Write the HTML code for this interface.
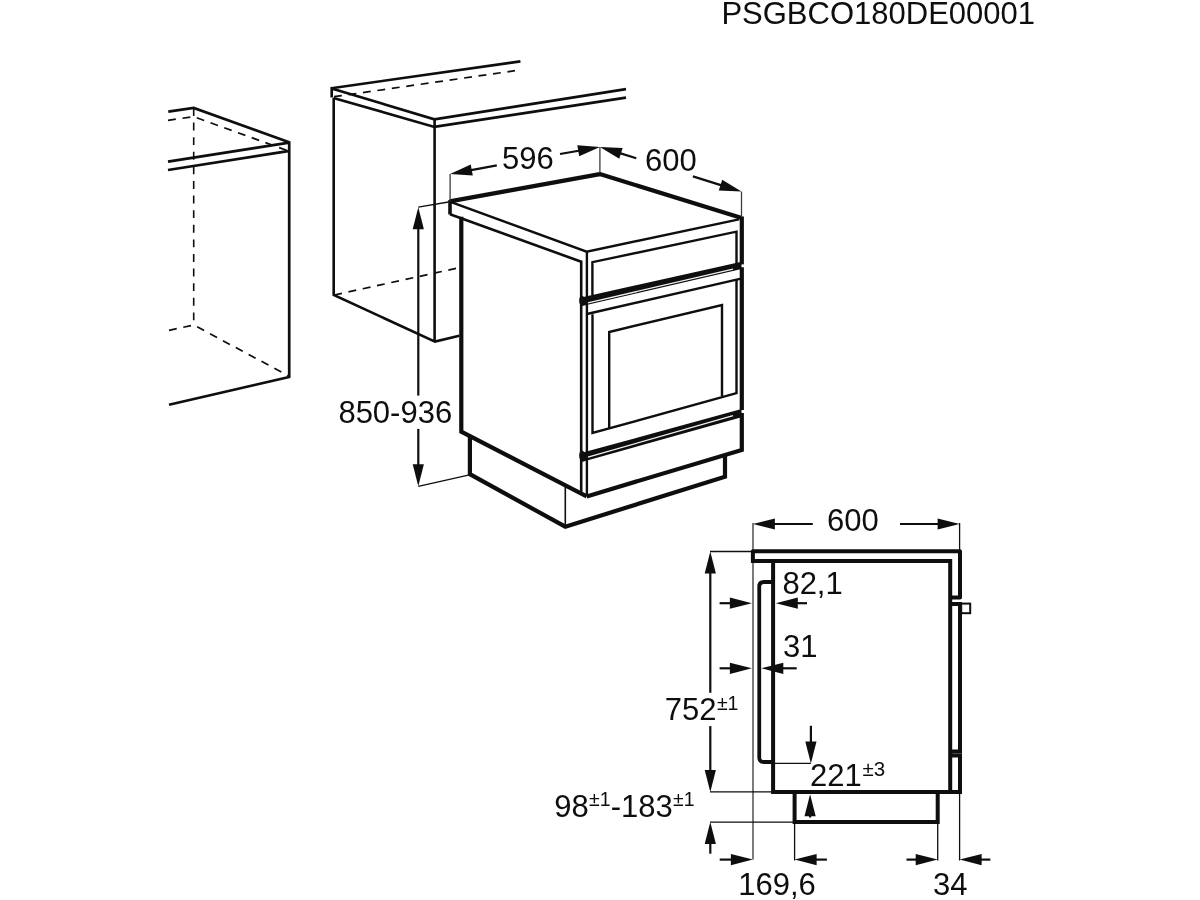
<!DOCTYPE html>
<html><head><meta charset="utf-8"><style>
html,body{margin:0;padding:0;background:#fff;width:1200px;height:900px;overflow:hidden}
svg{display:block;will-change:transform}
svg path,svg rect{fill:none;stroke:#0e0e0e}
svg text{font-family:"Liberation Sans",sans-serif;fill:#0e0e0e}
</style></head><body>
<svg width="1200" height="900" viewBox="0 0 1200 900">
<text x="721.4" y="23.6" font-size="31" text-anchor="start">PSGBCO180DE00001</text>
<path d="M168.30,111.70 L193.70,108.00 L289.20,142.20" stroke-width="2.7"/>
<path d="M168.00,161.70 L289.20,142.60" stroke-width="2.7"/>
<path d="M168.00,170.00 L288.00,151.20" stroke-width="2.7"/>
<path d="M289.20,141.20 L289.20,377.20" stroke-width="2.7"/>
<path d="M290.20,376.70 L169.00,404.80" stroke-width="2.7"/>
<path d="M168.00,120.30 L193.70,116.70 L288.00,150.80" stroke-width="1.7" stroke-dasharray="7.9 6.7"/>
<path d="M193.70,108.00 L193.70,325.00" stroke-width="1.6" stroke-dasharray="7.9 6.7"/>
<path d="M169.00,330.30 L193.70,325.00 L288.30,375.70" stroke-width="1.7" stroke-dasharray="7.9 6.7"/>
<path d="M331.40,88.20 L520.40,61.40" stroke-width="2.6"/>
<path d="M334.00,96.70 L515.00,70.70" stroke-width="1.7" stroke-dasharray="7.9 6.7"/>
<path d="M331.70,97.60 L331.70,88.50 L434.40,119.30 L626.00,89.10" stroke-width="2.6"/>
<path d="M333.50,98.00 L434.40,126.90 L626.00,97.60" stroke-width="2.6"/>
<path d="M434.60,119.30 L434.60,342.00" stroke-width="2.6"/>
<path d="M333.70,98.00 L333.70,295.00 L435.00,341.60 L459.30,335.70" stroke-width="2.6"/>
<path d="M334.20,295.00 L456.40,268.30" stroke-width="1.7" stroke-dasharray="7.9 6.7"/>
<path d="M449.80,201.40 L599.80,174.10 L741.70,218.00" stroke-width="4.2" stroke-linejoin="round"/>
<path d="M449.80,201.70 L586.70,251.70 L738.90,219.40" stroke-width="2.4"/>
<path d="M450.00,200.00 L450.00,214.50" stroke-width="3.6"/>
<path d="M450.00,214.30 L581.20,261.70 L581.20,493.00" stroke-width="2.6"/>
<path d="M586.90,251.70 L586.90,496.00" stroke-width="2.4"/>
<path d="M461.30,216.80 L461.30,431.60 L586.70,496.40" stroke-width="4.2"/>
<path d="M741.80,216.50 L741.80,264.40" stroke-width="4.2"/>
<path d="M741.80,267.20 L741.80,410.00" stroke-width="4.2"/>
<path d="M741.80,413.00 L741.80,450.00 L586.70,496.40" stroke-width="4.2"/>
<path d="M592.40,295.60 L592.40,262.20 L736.50,231.70 L736.50,263.90" stroke-width="2.4"/>
<polygon points="580,297.7 741.5,261.8 741.5,269.0 580,306.6" fill="#0e0e0e" stroke="none"/>
<ellipse cx="582" cy="300.5" rx="2.8" ry="4.6" fill="#0e0e0e" stroke="none"/>
<path d="M588.00,302.80 L733.00,269.20" stroke-width="1.3" style="stroke:#f2f2f2"/>
<path d="M586.90,314.00 L741.00,278.60" stroke-width="2.4"/>
<path d="M592.50,314.20 L592.50,433.00 L736.50,393.20 L736.50,280.00" stroke-width="2.4"/>
<path d="M609.20,428.50 L609.20,332.00 L722.00,305.00 L722.00,396.00" stroke-width="2.4"/>
<polygon points="580,453.3 741.5,409.0 741.5,417.3 580,462.4" fill="#0e0e0e" stroke="none"/>
<ellipse cx="582" cy="455.5" rx="2.8" ry="4.8" fill="#0e0e0e" stroke="none"/>
<path d="M588.00,457.20 L733.00,415.60" stroke-width="1.3" style="stroke:#f2f2f2"/>
<path d="M469.90,436.00 L469.90,474.20 L565.30,526.70 L725.00,476.70 L725.00,455.00" stroke-width="4.2"/>
<path d="M565.30,486.00 L565.30,526.70" stroke-width="1.6"/>
<path d="M450.10,174.00 L450.10,201.00" stroke-width="1.3" style="stroke:#3c3c3c"/>
<path d="M599.90,147.00 L599.90,173.00" stroke-width="1.3" style="stroke:#3c3c3c"/>
<path d="M741.50,191.60 L741.50,217.00" stroke-width="1.3" style="stroke:#3c3c3c"/>
<path d="M496.8,165.4 L469.8,170.4" stroke-width="2.2"/>
<polygon points="450.1,174.0 470.7,164.5 472.8,175.5" fill="#0e0e0e" stroke="none"/>
<path d="M560.0,154.0 L580.2,150.5" stroke-width="2.2"/>
<polygon points="599.9,147.0 579.2,156.3 577.3,145.3" fill="#0e0e0e" stroke="none"/>
<path d="M636.3,158.2 L619.0,152.9" stroke-width="2.2"/>
<polygon points="599.9,147.0 622.6,148.1 619.3,158.8" fill="#0e0e0e" stroke="none"/>
<path d="M692.9,176.4 L722.4,185.6" stroke-width="2.2"/>
<polygon points="741.5,191.6 718.8,190.4 722.2,179.7" fill="#0e0e0e" stroke="none"/>
<text x="502.0" y="169.2" font-size="31" text-anchor="start">596</text>
<text x="645.05" y="171.1" font-size="31" text-anchor="start">600</text>
<path d="M418.30,207.20 L448.50,202.00" stroke-width="1.3"/>
<path d="M418.30,486.30 L468.40,475.10" stroke-width="1.3"/>
<path d="M418.3,395.6 L418.3,227.2" stroke-width="2.2"/>
<polygon points="418.3,207.2 423.9,229.2 412.7,229.2" fill="#0e0e0e" stroke="none"/>
<path d="M418.3,428.9 L418.3,466.3" stroke-width="2.2"/>
<polygon points="418.3,486.3 412.7,464.3 423.9,464.3" fill="#0e0e0e" stroke="none"/>
<text x="338.4" y="422.6" font-size="31" text-anchor="start">850-936</text>
<path d="M753.00,523.00 L753.00,859.50" stroke-width="1.4" style="stroke:#444444"/>
<path d="M752.90,562.80 L752.90,551.25 L960.00,551.25 L960.00,597.60 L950.20,597.60" stroke-width="4.0" stroke-linejoin="round"/>
<path d="M751.10,561.00 L950.20,561.00 L950.20,791.90" stroke-width="4.0"/>
<path d="M950.20,603.90 L960.00,603.90 L960.00,751.60 L950.20,751.60" stroke-width="4.0"/>
<path d="M950.20,755.60 L960.00,755.60 L960.00,793.90" stroke-width="4.0"/>
<path d="M773.10,561.00 L773.10,791.90 L962.00,791.90" stroke-width="4.0"/>
<path d="M773.1,582 L764,582 Q759.25,582 759.25,586.5 L759.25,757.5 Q759.25,762 764,762 L773.1,762" stroke-width="3.8"/>
<path d="M794.60,791.90 L794.60,822.10 L937.70,822.10 L937.70,791.90" stroke-width="4.0"/>
<rect x="961.2" y="603.6" width="9.0" height="9.6" fill="none" stroke-width="2"/>
<path d="M959.60,523.00 L959.60,551.25" stroke-width="1.3"/>
<path d="M959.60,791.90 L959.60,860.50" stroke-width="1.3"/>
<path d="M794.60,822.10 L794.60,860.50" stroke-width="1.3"/>
<path d="M937.70,822.10 L937.70,860.50" stroke-width="1.3"/>
<path d="M710.00,551.50 L752.90,551.50" stroke-width="1.3"/>
<path d="M710.00,791.90 L773.10,791.90" stroke-width="1.3"/>
<path d="M710.00,822.10 L794.60,822.10" stroke-width="1.3"/>
<path d="M773.10,763.40 L810.90,763.40" stroke-width="1.3"/>
<path d="M812.8,524.0 L772.9,524.0" stroke-width="2.2"/>
<polygon points="752.9,524.0 774.9,518.4 774.9,529.6" fill="#0e0e0e" stroke="none"/>
<path d="M900.0,524.0 L939.6,524.0" stroke-width="2.2"/>
<polygon points="959.6,524.0 937.6,529.6 937.6,518.4" fill="#0e0e0e" stroke="none"/>
<text x="827.05" y="530.7" font-size="31" text-anchor="start">600</text>
<path d="M710.3,692.8 L710.3,571.5" stroke-width="2.2"/>
<polygon points="710.3,551.5 715.9,573.5 704.7,573.5" fill="#0e0e0e" stroke="none"/>
<path d="M710.3,726.1 L710.3,771.9" stroke-width="2.2"/>
<polygon points="710.3,791.9 704.7,769.9 715.9,769.9" fill="#0e0e0e" stroke="none"/>
<path d="M710.3,853.7 L710.3,842.1" stroke-width="2.2"/>
<polygon points="710.3,822.1 715.9,844.1 704.7,844.1" fill="#0e0e0e" stroke="none"/>
<path d="M719.6,603.2 L731.9,603.2" stroke-width="2.2"/>
<polygon points="751.9,603.2 729.9,608.8 729.9,597.6" fill="#0e0e0e" stroke="none"/>
<path d="M807.0,603.2 L795.8,603.2" stroke-width="2.2"/>
<polygon points="775.8,603.2 797.8,597.6 797.8,608.8" fill="#0e0e0e" stroke="none"/>
<path d="M719.6,668.3 L731.9,668.3" stroke-width="2.2"/>
<polygon points="751.9,668.3 729.9,673.9 729.9,662.7" fill="#0e0e0e" stroke="none"/>
<path d="M796.7,668.3 L781.3,668.3" stroke-width="2.2"/>
<polygon points="761.3,668.3 783.3,662.7 783.3,673.9" fill="#0e0e0e" stroke="none"/>
<path d="M810.9,725.8 L810.9,743.4" stroke-width="2.2"/>
<polygon points="810.9,763.4 805.3,741.4 816.5,741.4" fill="#0e0e0e" stroke="none"/>
<path d="M810.1,817.5 L810.1,814.2" stroke-width="2.2"/>
<polygon points="810.1,794.2 815.7,816.2 804.5,816.2" fill="#0e0e0e" stroke="none"/>
<path d="M719.7,859.6 L732.9,859.6" stroke-width="2.2"/>
<polygon points="752.9,859.6 730.9,865.2 730.9,854.0" fill="#0e0e0e" stroke="none"/>
<path d="M826.9,859.6 L814.6,859.6" stroke-width="2.2"/>
<polygon points="794.6,859.6 816.6,854.0 816.6,865.2" fill="#0e0e0e" stroke="none"/>
<path d="M906.5,859.6 L917.7,859.6" stroke-width="2.2"/>
<polygon points="937.7,859.6 915.7,865.2 915.7,854.0" fill="#0e0e0e" stroke="none"/>
<path d="M990.4,859.6 L979.6,859.6" stroke-width="2.2"/>
<polygon points="959.6,859.6 981.6,854.0 981.6,865.2" fill="#0e0e0e" stroke="none"/>
<text x="782.4" y="593.8" font-size="31" text-anchor="start">82,1</text>
<text x="783.1" y="657.4" font-size="31" text-anchor="start">31</text>
<text x="664.8" y="719.5" font-size="31" text-anchor="start">752<tspan font-size="19.5" dx="0.4" dy="-9.8">±1</tspan></text>
<text x="554.2" y="816.6" font-size="31" text-anchor="start">98<tspan font-size="19.5" dx="0.4" dy="-10.3">±1</tspan><tspan dy="10.3">-183</tspan><tspan font-size="19.5" dx="0.4" dy="-10.3">±1</tspan></text>
<text x="810.05" y="785.8" font-size="31" text-anchor="start">221<tspan font-size="20.5" dx="0.6" dy="-10.1">±3</tspan></text>
<text x="738.2" y="894.9" font-size="31" text-anchor="start">169,6</text>
<text x="932.9" y="894.8" font-size="31" text-anchor="start">34</text>
</svg>
</body></html>
